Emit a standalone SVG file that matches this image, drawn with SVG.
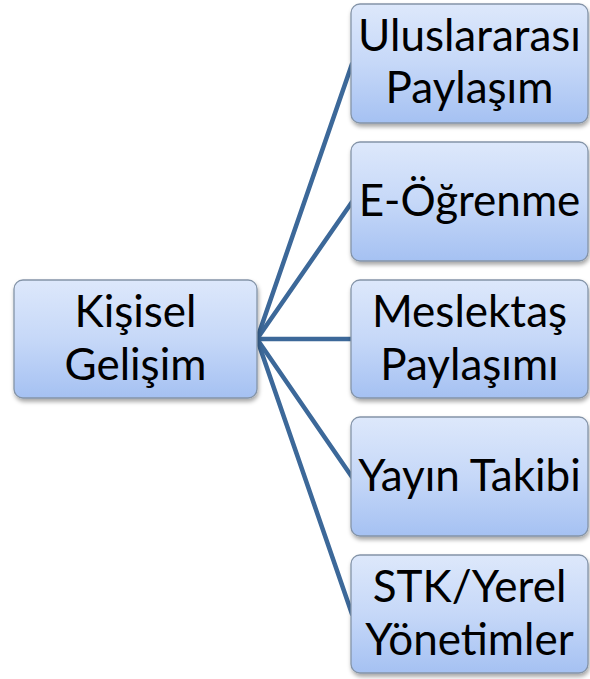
<svg xmlns="http://www.w3.org/2000/svg" width="590" height="679" viewBox="0 0 590 679">
<defs>
<linearGradient id="g" x1="0" y1="0" x2="0" y2="1">
<stop offset="0" stop-color="#dde8fb"/>
<stop offset="0.5" stop-color="#c6d8f8"/>
<stop offset="1" stop-color="#a5c1f2"/>
</linearGradient>
<filter id="sh" x="-10%" y="-10%" width="125%" height="125%">
<feDropShadow dx="1" dy="3" stdDeviation="2" flood-color="#000" flood-opacity="0.35"/>
</filter>
</defs>
<style>
.box{fill:url(#g);stroke:#8494a8;stroke-width:1.3;filter:url(#sh)}
.t{font-family:Lato,"Open Sans","Liberation Sans",sans-serif;font-size:44px;fill:#000;text-anchor:middle}
.c{stroke:#3c6899;stroke-width:4.5;fill:none;stroke-linecap:round}
</style>
<g id="connectors">
<line class="c" x1="257" y1="339" x2="352" y2="64"/>
<line class="c" x1="257" y1="339" x2="352" y2="202"/>
<line class="c" x1="257" y1="339" x2="352" y2="339"/>
<line class="c" x1="257" y1="339" x2="352" y2="477"/>
<line class="c" x1="257" y1="339" x2="352" y2="614"/>
</g>
<g id="kisisel">
<rect class="box" x="14" y="280" width="243" height="118" rx="9"/>
<text class="t" x="135.5" y="327">Kişisel</text>
<text class="t" x="135.5" y="380">Gelişim</text>
</g>
<g id="uluslararasi">
<rect class="box" x="351" y="4" width="237" height="119" rx="9"/>
<text class="t" x="469.5" y="51">Uluslararası</text>
<text class="t" x="469.5" y="103">Paylaşım</text>
</g>
<g id="eogrenme">
<rect class="box" x="351" y="142" width="237" height="119" rx="9"/>
<text class="t" x="469.5" y="216">E-Öğrenme</text>
</g>
<g id="meslektas">
<rect class="box" x="351" y="280" width="237" height="118" rx="9"/>
<text class="t" x="469.5" y="327">Meslektaş</text>
<text class="t" x="469.5" y="380">Paylaşımı</text>
</g>
<g id="yayin">
<rect class="box" x="351" y="417" width="237" height="119" rx="9"/>
<text class="t" x="469.5" y="491">Yayın Takibi</text>
</g>
<g id="stk">
<rect class="box" x="351" y="555" width="237" height="118" rx="9"/>
<text class="t" x="469.5" y="602">STK/Yerel</text>
<text class="t" x="469.5" y="655">Yönetimler</text>
</g>
</svg>
